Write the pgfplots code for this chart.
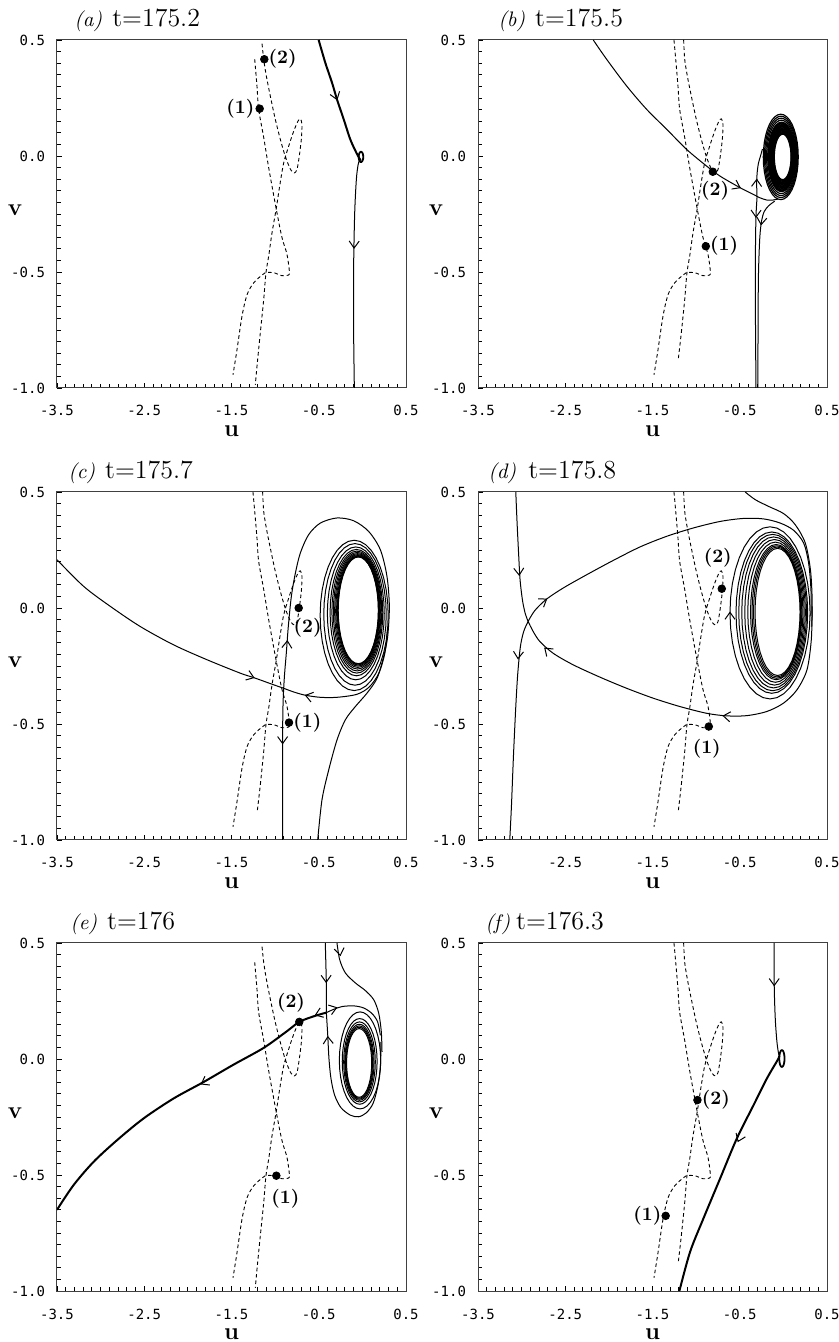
\documentclass[border=0pt]{standalone}
\usepackage{fontspec}
\usepackage{pgfplots}
\pgfplotsset{compat=1.18}
\usepackage{pgfplotstable}
\usetikzlibrary{arrows.meta}
\newfontfamily\tickfont{DejaVu Sans Mono}

% unit circle, 10 degree steps (scaled for the closed orbits)
\pgfplotstableread{
c s
1.0000 0.0000
0.9848 0.1736
0.9397 0.3420
0.8660 0.5000
0.7660 0.6428
0.6428 0.7660
0.5000 0.8660
0.3420 0.9397
0.1736 0.9848
0.0000 1.0000
-0.1736 0.9848
-0.3420 0.9397
-0.5000 0.8660
-0.6428 0.7660
-0.7660 0.6428
-0.8660 0.5000
-0.9397 0.3420
-0.9848 0.1736
-1.0000 0.0000
-0.9848 -0.1736
-0.9397 -0.3420
-0.8660 -0.5000
-0.7660 -0.6428
-0.6428 -0.7660
-0.5000 -0.8660
-0.3420 -0.9397
-0.1736 -0.9848
0.0000 -1.0000
0.1736 -0.9848
0.3420 -0.9397
0.5000 -0.8660
0.6428 -0.7660
0.7660 -0.6428
0.8660 -0.5000
0.9397 -0.3420
0.9848 -0.1736
1.0000 0.0000
}\ring

% dashed curves, long version
\pgfplotstableread{
u v
-1.143 0.500
-1.131 0.417
-1.101 0.345
-1.055 0.258
-0.998 0.158
-0.940 0.071
-0.891 0.007
-0.856 -0.030
-0.818 -0.061
-0.780 -0.073
-0.749 -0.058
-0.723 0.000
-0.700 0.071
-0.692 0.136
-0.711 0.160
-0.738 0.150
-0.787 0.107
-0.845 0.042
-0.902 -0.030
-0.948 -0.130
-0.986 -0.224
-1.036 -0.332
-1.074 -0.432
-1.105 -0.503
-1.131 -0.619
-1.170 -0.763
-1.203 -0.871
}\nullOneB

\pgfplotstableread{
u v
-1.150 0.484
-1.131 0.417
-1.101 0.345
-1.055 0.258
-0.998 0.158
-0.940 0.071
-0.891 0.007
-0.856 -0.030
-0.818 -0.061
-0.780 -0.073
-0.749 -0.058
-0.723 0.000
-0.700 0.071
-0.692 0.136
-0.711 0.160
-0.738 0.150
-0.787 0.107
-0.845 0.042
-0.902 -0.030
-0.948 -0.130
-0.986 -0.224
-1.036 -0.332
-1.074 -0.432
-1.105 -0.503
-1.131 -0.619
-1.170 -0.763
-1.208 -0.907
-1.227 -0.986
}\nullOneA

\pgfplotstableread{
u v
-1.254 0.500
-1.234 0.417
-1.208 0.301
-1.189 0.202
-1.131 0.080
-1.074 -0.050
-0.986 -0.231
-0.921 -0.352
-0.864 -0.424
-0.837 -0.496
-0.845 -0.513
-0.921 -0.516
-1.017 -0.503
-1.112 -0.503
-1.150 -0.513
-1.246 -0.547
-1.322 -0.598
-1.380 -0.691
-1.437 -0.835
-1.483 -0.943
}\nullTwoB

\pgfplotstableread{
u v
-1.234 0.417
-1.208 0.301
-1.189 0.202
-1.131 0.080
-1.074 -0.050
-0.986 -0.231
-0.921 -0.352
-0.864 -0.424
-0.837 -0.496
-0.845 -0.513
-0.921 -0.516
-1.017 -0.503
-1.112 -0.503
-1.150 -0.513
-1.246 -0.547
-1.322 -0.598
-1.380 -0.691
-1.437 -0.835
-1.483 -0.943
}\nullTwoA

\pgfplotsset{
  panel/.style={
    scale only axis, width=174.5pt, height=174pt, anchor=south west,
    xmin=-3.5, xmax=0.5, ymin=-1, ymax=0.5,
    xtick={-3.5,-2.5,-1.5,-0.5,0.5}, xticklabels={-3.5,-2.5,-1.5,-0.5,0.5},
    ytick={-1,-0.5,0,0.5}, yticklabels={-1.0,-0.5,0.0,0.5},
    minor x tick num=9, minor y tick num=9,
    tick align=inside, xtick pos=left, ytick pos=left,
    major tick length=2.5pt, minor tick length=2pt,
    tick style={black, line width=0.45pt},
    axis line style={line width=0.5pt, black!75},
    ticklabel style={font=\tickfont\fontsize{7}{8}\selectfont},
    xticklabel style={anchor=base, yshift=-14pt},
    yticklabel style={anchor=east, xshift=-2.5pt},
    clip mode=individual,
  },
  nc/.style={smooth, line width=0.45pt, dash pattern=on 1.8pt off 1.4pt},
  traj/.style={smooth, line width=0.5pt},
  thk/.style={smooth, line width=1pt},
  pt/.style={only marks, mark=*, mark size=1.9pt},
  heads/.style={line width=0.5pt, -{Straight Barb[length=3.5pt,width=5pt]},
    quiver={u=\thisrow{du}, v=\thisrow{dv}}},
}

\newcommand\lbl{\fontsize{9.5}{10}\selectfont\bfseries}
\newcommand\paneltext[4]{%
  \node[anchor=base west, inner sep=0pt] at (rel axis cs:0,1) [xshift=#3, yshift=6.5pt]
    {\fontsize{10.5}{12}\selectfont\textit{(#1)}\hspace{#4}\fontsize{13}{15}\selectfont t=#2};
  \node[inner sep=0pt] at (rel axis cs:0.5,0) [yshift=-21.5pt] {\fontsize{12}{14}\selectfont\bfseries u};
  \node[inner sep=0pt] at (rel axis cs:0,0.51) [xshift=-21pt] {\fontsize{12}{14}\selectfont\bfseries v};
}

\begin{document}
\begin{tikzpicture}
\useasboundingbox (0,0) rectangle (419.5pt,671pt);

% (a)
\begin{axis}[panel, at={(28.5pt,477pt)}]
\addplot[nc] table {\nullOneA};
\addplot[nc] table {\nullTwoA};
\addplot[thk] coordinates {(-0.501,0.5) (-0.425,0.402) (-0.348,0.316) (-0.291,0.244) (-0.214,0.158) (-0.138,0.071) (-0.069,0.014) (-0.031,-0.012) (-0.02,-0.02)};
\addplot[line width=0.9pt] table[x expr=\thisrow{c}*0.026-0.016, y expr=\thisrow{s}*0.022-0.004] {\ring};
\addplot[traj] coordinates {(-0.035,-0.02) (-0.05,-0.04) (-0.069,-0.101) (-0.088,-0.245) (-0.100,-0.476) (-0.100,-0.763) (-0.092,-1.0)};
\addplot[heads] table[row sep=\\] {x y du dv\\ -0.291 0.244 0.00385 -0.0043\\ -0.095 -0.389 -0.0006 -0.01155\\};
\addplot[pt] coordinates {(-1.177,0.204) (-1.124,0.417)};
\node[anchor=east, inner sep=2.5pt, font=\lbl] at (axis cs:-1.177,0.204) {(1)};
\node[anchor=west, inner sep=2pt, font=\lbl] at (axis cs:-1.124,0.417) {(2)};
\paneltext{a}{175.2}{8.5pt}{5pt}
\end{axis}

% (b)
\begin{axis}[panel, at={(239pt,477pt)}]
\addplot[nc] table {\nullOneB};
\addplot[nc] table {\nullTwoB};
\pgfplotsinvokeforeach{0,0.04,0.08,0.12,0.16,0.2,0.24,0.28,0.32,0.36,0.4,0.44,0.48,0.52,0.56,0.6,0.7,0.8,0.9,1.0}{
  \addplot[line width=0.6pt] table[x expr=\thisrow{c}*(0.096+0.104*#1)-0.008-0.022*#1, y expr=\thisrow{s}*(0.098+0.086*#1)-0.004] {\ring};
}
\addplot[traj] coordinates {(-2.179,0.5) (-2.026,0.417) (-1.797,0.302) (-1.567,0.201) (-1.337,0.115) (-1.108,0.028) (-0.878,-0.044) (-0.725,-0.087) (-0.495,-0.137) (-0.342,-0.166) (-0.27,-0.18) (-0.19,-0.19) (-0.12,-0.19) (-0.06,-0.185)};
\addplot[traj] coordinates {(-0.302,-0.179) (-0.306,-0.12) (-0.300,-0.07) (-0.285,-0.03) (-0.262,0.0) (-0.24,0.03)};
\addplot[traj] coordinates {(-0.302,-0.179) (-0.314,-0.26) (-0.320,-0.4) (-0.322,-0.6) (-0.318,-0.8) (-0.315,-1.0)};
\addplot[traj] coordinates {(-0.10,-0.195) (-0.17,-0.215) (-0.22,-0.24) (-0.25,-0.28) (-0.27,-0.35) (-0.285,-0.5) (-0.29,-0.7) (-0.292,-1.0)};
\addplot[heads] table[row sep=\\] {x y du dv\\ -0.495 -0.137 0.00765 -0.00145\\ -0.305 -0.10 0.00015 0.0025\\ -0.314 -0.26 -0.0003 -0.007\\ -0.255 -0.296 -0.001 -0.0035\\};
\addplot[pt] coordinates {(-0.809,-0.068) (-0.889,-0.389)};
\node[font=\lbl] at (axis cs:-0.782,-0.151) {(2)};
\node[anchor=west, inner sep=2pt, font=\lbl] at (axis cs:-0.889,-0.389) {(1)};
\paneltext{b}{175.5}{10pt}{5pt}
\end{axis}

% (c)
\begin{axis}[panel, at={(28.5pt,251pt)}]
\addplot[nc] table {\nullOneB};
\addplot[nc] table {\nullTwoB};
\pgfplotsinvokeforeach{0,0.02,0.05,0.09,0.14,0.2,0.27,0.35,0.45,0.6,0.8,1.0}{
  \addplot[line width=0.5pt] table[x expr=\thisrow{c}*(0.23+0.16*#1)-0.047-0.047*#1, y expr=\thisrow{s}*(0.23+0.094*#1)-0.010-0.022*#1] {\ring};
}
\addplot[traj] coordinates {(-3.5,0.208) (-3.194,0.093) (-2.889,0.007) (-2.545,-0.080) (-2.163,-0.159) (-1.781,-0.223) (-1.399,-0.281) (-1.246,-0.300) (-1.017,-0.331) (-0.902,-0.346)};
\addplot[traj] coordinates {(0.29,-0.08) (0.26,-0.19) (0.19,-0.28) (0.08,-0.34) (-0.062,-0.372) (-0.291,-0.385) (-0.482,-0.385) (-0.654,-0.376) (-0.787,-0.362) (-0.902,-0.346)};
\addplot[traj] coordinates {(-0.902,-0.346) (-0.891,-0.281) (-0.872,-0.195) (-0.849,-0.080) (-0.814,0.050) (-0.768,0.150) (-0.711,0.237) (-0.616,0.316) (-0.482,0.366) (-0.291,0.388) (-0.100,0.376) (0.072,0.330) (0.206,0.251) (0.282,0.136) (0.309,0.007) (0.290,-0.123) (0.244,-0.209) (0.168,-0.303) (0.053,-0.367) (-0.081,-0.425) (-0.195,-0.482) (-0.291,-0.569) (-0.386,-0.698) (-0.463,-0.827) (-0.512,-1.0)};
\addplot[traj] coordinates {(-0.902,-0.346) (-0.910,-0.425) (-0.914,-0.569) (-0.914,-1.0)};
\addplot[heads] table[row sep=\\] {x y du dv\\ -1.246 -0.300 0.01145 -0.00155\\ -0.654 -0.376 -0.00665 0.0007\\ -0.86 -0.144 0.00115 0.00575\\ -0.914 -0.583 0 -0.005\\};
\addplot[pt] coordinates {(-0.730,0.0) (-0.841,-0.494)};
\node[font=\lbl] at (axis cs:-0.627,-0.083) {(2)};
\node[anchor=west, inner sep=2pt, font=\lbl] at (axis cs:-0.841,-0.494) {(1)};
\paneltext{c}{175.7}{5.5pt}{5pt}
\end{axis}

% (d)
\begin{axis}[panel, at={(239pt,251pt)}]
\addplot[nc] table {\nullOneB};
\addplot[nc] table {\nullTwoB};
\pgfplotsinvokeforeach{0,0.06,0.12,0.18,0.29,0.41,0.53,0.65,0.76,1.0}{
  \addplot[line width=0.5pt] table[x expr=\thisrow{c}*(0.258+0.201*#1)-0.067-0.086*#1, y expr=\thisrow{s}*(0.274+0.097*#1)-0.017-0.004*#1] {\ring};
}
\addplot[traj] coordinates {(-3.067,0.5) (-3.052,0.366) (-3.033,0.222) (-3.018,0.122) (-2.991,0.035) (-2.960,-0.022) (-2.926,-0.058)};
\addplot[traj] coordinates {(0.33,0.007) (0.32,-0.137) (0.270,-0.267) (0.155,-0.353) (0.002,-0.410) (-0.189,-0.446) (-0.419,-0.464) (-0.648,-0.465) (-0.878,-0.454) (-1.184,-0.425) (-1.490,-0.389) (-1.797,-0.346) (-2.103,-0.298) (-2.409,-0.245) (-2.639,-0.195) (-2.792,-0.144) (-2.868,-0.101) (-2.926,-0.058)};
\addplot[traj] coordinates {(-2.926,-0.058) (-2.976,-0.101) (-3.014,-0.166) (-3.044,-0.281) (-3.067,-0.425) (-3.094,-0.641) (-3.117,-0.856) (-3.136,-1.0)};
\addplot[traj] coordinates {(-2.926,-0.058) (-2.849,-0.011) (-2.715,0.038) (-2.524,0.086) (-2.256,0.143) (-1.950,0.205) (-1.644,0.263) (-1.337,0.309) (-1.031,0.345) (-0.725,0.373) (-0.457,0.386) (-0.227,0.384) (-0.036,0.366) (0.117,0.335) (0.232,0.280) (0.289,0.194) (0.316,0.079) (0.316,-0.036)};
\addplot[traj] coordinates {(-0.438,0.5) (-0.323,0.467) (-0.170,0.438) (0.002,0.407) (0.136,0.359) (0.251,0.280) (0.310,0.165) (0.330,0.036) (0.325,-0.080)};
\addplot[heads] table[row sep=\\] {x y du dv\\ -3.028 0.143 0.00075 -0.005\\ -0.687 -0.465 -0.0115 0.00055\\ -2.734 -0.173 -0.00765 0.00255\\ -3.041 -0.216 -0.001 -0.00575\\ -2.715 0.038 0.00955 0.0024\\ -0.612 -0.02 0 0.005\\};
\addplot[pt] coordinates {(-0.706,0.083) (-0.855,-0.511)};
\node[font=\lbl] at (axis cs:-0.752,0.215) {(2)};
\node[font=\lbl] at (axis cs:-0.878,-0.605) {(1)};
\paneltext{d}{175.8}{5pt}{6pt}
\end{axis}

% (e)
\begin{axis}[panel, at={(28.5pt,25.5pt)}]
\addplot[nc] table {\nullOneA};
\addplot[nc] table {\nullTwoA};
\pgfplotsinvokeforeach{0,0.08,0.16,0.26,0.4,0.6,1.0}{
  \addplot[line width=0.5pt] table[x expr=\thisrow{c}*(0.144+0.093*#1)-0.037+0.010*#1, y expr=\thisrow{s}*(0.148+0.061*#1)-0.017+0.011*#1] {\ring};
}
\addplot[thk] coordinates {(-0.413,0.200) (-0.558,0.184) (-0.723,0.160) (-0.864,0.120) (-1.131,0.048) (-1.475,-0.024) (-1.819,-0.099) (-2.163,-0.170) (-2.507,-0.256) (-2.812,-0.350) (-3.080,-0.443) (-3.309,-0.543) (-3.5,-0.650)};
\addplot[traj] coordinates {(-0.413,0.200) (-0.329,0.214) (-0.234,0.226) (-0.100,0.229) (0.015,0.220) (0.110,0.196) (0.175,0.160) (0.206,0.102)};
\addplot[traj] coordinates {(-0.425,0.5) (-0.417,0.389) (-0.413,0.318) (-0.413,0.200)};
\addplot[traj] coordinates {(-0.413,0.200) (-0.398,0.110) (-0.383,0.002) (-0.360,-0.084) (-0.318,-0.156) (-0.245,-0.210) (-0.138,-0.242) (-0.043,-0.249) (0.045,-0.232) (0.122,-0.192) (0.175,-0.120) (0.206,-0.034) (0.213,0.074)};
\addplot[traj] coordinates {(-0.291,0.5) (-0.260,0.428) (-0.195,0.371) (-0.081,0.328) (0.034,0.295) (0.129,0.256) (0.187,0.198) (0.217,0.117) (0.225,0.031)};
\addplot[heads] table[row sep=\\] {x y du dv\\ -0.539 0.189 -0.00825 -0.0012\\ -1.838 -0.106 -0.0172 -0.00355\\ -0.291 0.222 0.00475 0.0006\\ -0.415 0.332 0.0001 -0.005\\ -0.396 0.095 -0.00075 0.0045\\ -0.253 0.447 0.00155 -0.0036\\};
\addplot[pt] coordinates {(-0.723,0.160) (-0.986,-0.503)};
\node[font=\lbl] at (axis cs:-0.818,0.243) {(2)};
\node[font=\lbl] at (axis cs:-0.883,-0.601) {(1)};
\paneltext{e}{176}{6.5pt}{5pt}
\end{axis}

% (f)
\begin{axis}[panel, at={(239pt,25.5pt)}]
\addplot[nc] table {\nullOneB};
\addplot[nc] table {\nullTwoB};
\addplot[traj] coordinates {(-0.105,0.5) (-0.105,0.318) (-0.093,0.174) (-0.074,0.074) (-0.055,0.023) (-0.045,0.01)};
\addplot[line width=0.9pt] table[x expr=\thisrow{c}*0.03-0.017, y expr=\thisrow{s}*0.036+0.002] {\ring};
\addplot[thk] coordinates {(-0.047,0.012) (-0.067,-0.005) (-0.189,-0.084) (-0.342,-0.199) (-0.534,-0.343) (-0.725,-0.515) (-0.916,-0.687) (-1.069,-0.831) (-1.192,-1.0)};
\addplot[heads] table[row sep=\\] {x y du dv\\ -0.105 0.318 0 -0.005\\ -0.514 -0.350 -0.00955 -0.0086\\};
\addplot[pt] coordinates {(-0.985,-0.177) (-1.349,-0.676)};
\node[anchor=west, inner sep=2pt, font=\lbl] at (axis cs:-0.985,-0.177) {(2)};
\node[anchor=east, inner sep=2pt, font=\lbl] at (axis cs:-1.349,-0.676) {(1)};
\paneltext{f}{176.3}{3.5pt}{3pt}
\end{axis}
\end{tikzpicture}
\end{document}
